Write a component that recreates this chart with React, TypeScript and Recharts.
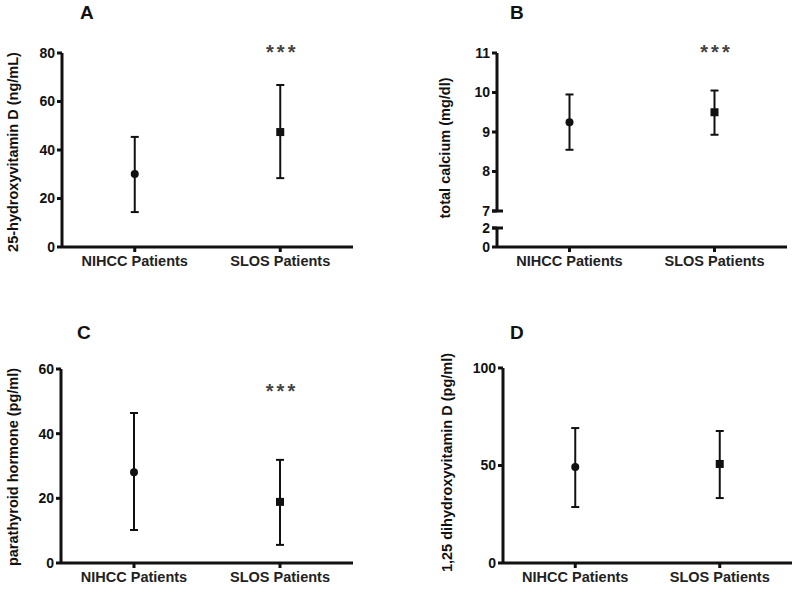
import React from 'react';
import { ComposedChart, Line, XAxis, YAxis, ErrorBar, ReferenceDot } from 'recharts';

const groups = ['NIHCC Patients', 'SLOS Patients'];

// A: 25-hydroxyvitamin D
const vitD25Mean = [30.1, 47.4];
const vitD25Low = [14.4, 28.4];
const vitD25High = [45.4, 66.8];

// B: total calcium
const calciumMean = [9.25, 9.5];
const calciumLow = [8.55, 8.93];
const calciumHigh = [9.95, 10.05];

// C: parathyroid hormone
const pthMean = [28.1, 18.9];
const pthLow = [10.2, 5.6];
const pthHigh = [46.4, 31.9];

// D: 1,25 dihydroxyvitamin D
const vitD125Mean = [49.2, 50.8];
const vitD125Low = [28.7, 33.3];
const vitD125High = [69.2, 67.7];

const ticksA = [0, 20, 40, 60, 80];
const ticksBUpper = [7, 8, 9, 10, 11];
const ticksBLower = [0, 2];
const ticksC = [0, 20, 40, 60];
const ticksD = [0, 50, 100];

// significance markers (y position in data units)
const starA = 80;
const starB = 11;
const starC = 53;

const FONT = '"Liberation Sans", Arial, sans-serif';
const INK = '#111';
const axisStyle = { stroke: INK, strokeWidth: 3 };
const yTickStyle = { fontSize: 14, fontWeight: 'bold', fill: INK, fontFamily: FONT };
const xTickStyle = { fontSize: 14.5, fontWeight: 'bold', fill: '#222', fontFamily: FONT };

function makeRows(mean: number[], low: number[], high: number[]) {
  return groups.map((g, i) => ({
    name: g,
    mean: mean[i],
    err: [mean[i] - low[i], high[i] - mean[i]],
  }));
}

const renderDot = (p: any) => {
  const { cx, cy, index } = p;
  if (cx == null || cy == null) return <g key={`d${index}`} />;
  if (index === 0) return <circle key={`d${index}`} cx={cx} cy={cy} r={4} fill={INK} />;
  return <rect key={`d${index}`} x={cx - 4} y={cy - 4} width={8} height={8} fill={INK} />;
};

const yLabel = (text: string, x: number, dy: number) => (props: any) => {
  const vb = props.viewBox || {};
  const cy = vb.y + vb.height / 2 + dy;
  return (
    <text
      x={x}
      y={cy}
      transform={`rotate(-90, ${x}, ${cy})`}
      textAnchor="middle"
      dominantBaseline="central"
      fontSize={14.5}
      fontWeight="bold"
      fill={INK}
      fontFamily={FONT}
    >
      {text}
    </text>
  );
};

// tick for the broken axis in B: break values get a short mark to the right of the axis
const breakTick = (breakVal: number) => (props: any) => {
  const { x, y, payload } = props;
  return (
    <g>
      <text x={x} y={y} dy="0.355em" textAnchor="end" {...yTickStyle}>
        {payload.value}
      </text>
      {payload.value === breakVal && (
        <line x1={x + 2} y1={y} x2={x + 13} y2={y} stroke={INK} strokeWidth={3} />
      )}
    </g>
  );
};

const starLabel = (props: any) => {
  const vb = props.viewBox || {};
  const cx = vb.x + (vb.width || 0) / 2;
  const cy = vb.y + (vb.height || 0) / 2;
  return (
    <text x={cx + 2} y={cy} dy="0.32em" textAnchor="middle" fontSize={20} fontWeight="bold" letterSpacing={3} fill="#444" fontFamily={FONT}>
      ***
    </text>
  );
};

type PanelProps = {
  left: number;
  top: number;
  width: number;
  height: number;
  margin: { top: number; right: number; bottom: number; left: number };
  yWidth: number;
  domain: [number, number];
  ticks: number[];
  rows: any[];
  label?: any;
  star?: number;
  hideX?: boolean;
  tick?: any;
  series?: boolean;
};

function Panel({ left, top, width, height, margin, yWidth, domain, ticks, rows, label, star, hideX = false, tick, series = true }: PanelProps) {
  return (
    <div style={{ position: 'absolute', left, top }}>
      <ComposedChart width={width} height={height} data={rows} margin={margin}>
        <XAxis
          dataKey="name"
          scale="band"
          hide={hideX}
          height={30}
          interval={0}
          tickSize={5}
          tickMargin={4}
          axisLine={axisStyle}
          tickLine={axisStyle}
          tick={xTickStyle}
        />
        <YAxis
          type="number"
          domain={domain}
          ticks={ticks}
          interval={0}
          width={yWidth}
          tickSize={5}
          allowDataOverflow
          axisLine={axisStyle}
          tickLine={axisStyle}
          tick={tick ?? yTickStyle}
          label={label}
        />
        {series && (
          <Line dataKey="mean" stroke="none" dot={renderDot} activeDot={false} isAnimationActive={false}>
            <ErrorBar dataKey="err" direction="y" width={4} stroke={INK} strokeWidth={2} />
          </Line>
        )}
        {star != null && (
          <ReferenceDot
            x="SLOS Patients"
            y={star}
            r={0}
            fill="none"
            stroke="none"
            ifOverflow="visible"
            label={starLabel}
          />
        )}
      </ComposedChart>
    </div>
  );
}

export default function App() {
  const rowsA = makeRows(vitD25Mean, vitD25Low, vitD25High);
  const rowsB = makeRows(calciumMean, calciumLow, calciumHigh);
  const rowsC = makeRows(pthMean, pthLow, pthHigh);
  const rowsD = makeRows(vitD125Mean, vitD125Low, vitD125High);

  return (
    <div style={{ position: 'absolute', left: 0, top: 0, width: 800, height: 595, background: '#fff', overflow: 'hidden' }}>
      <Panel
        left={0} top={0} width={370} height={290}
        margin={{ top: 53, right: 17, bottom: 13, left: 0 }}
        yWidth={62} domain={[0, 80]} ticks={ticksA} rows={rowsA}
        label={yLabel('25-hydroxyvitamin D (ng/mL)', 13, 2)}
        star={starA}
      />
      {/* B: broken axis, upper part 7-11 */}
      <Panel
        left={400} top={0} width={400} height={220}
        margin={{ top: 53, right: 13, bottom: 9, left: 0 }}
        yWidth={97} domain={[7, 11]} ticks={ticksBUpper} rows={rowsB}
        label={yLabel('total calcium (mg/dl)', 45, 16)}
        star={starB} hideX tick={breakTick(7)}
      />
      {/* B: lower part 0-2 */}
      <Panel
        left={400} top={215} width={400} height={80}
        margin={{ top: 13, right: 13, bottom: 18, left: 0 }}
        yWidth={97} domain={[0, 2]} ticks={ticksBLower} rows={rowsB}
        tick={breakTick(2)} series={false}
      />
      <Panel
        left={0} top={300} width={370} height={295}
        margin={{ top: 69, right: 17, bottom: 2, left: 0 }}
        yWidth={61} domain={[0, 60]} ticks={ticksC} rows={rowsC}
        label={yLabel('parathyroid hormone (pg/ml)', 13, 1)}
        star={starC}
      />
      <Panel
        left={400} top={300} width={400} height={295}
        margin={{ top: 68, right: 8, bottom: 2, left: 0 }}
        yWidth={103} domain={[0, 100]} ticks={ticksD} rows={rowsD}
        label={yLabel('1,25 dihydroxyvitamin D (pg/ml)', 47, -3)}
      />
      <svg width={800} height={595} style={{ position: 'absolute', left: 0, top: 0, pointerEvents: 'none' }}>
        <g fontFamily={FONT} fontWeight="bold" fontSize={19} fill={INK}>
          <text x={80} y={19}>A</text>
          <text x={510} y={19}>B</text>
          <text x={77} y={339}>C</text>
          <text x={510} y={339}>D</text>
        </g>
      </svg>
    </div>
  );
}
